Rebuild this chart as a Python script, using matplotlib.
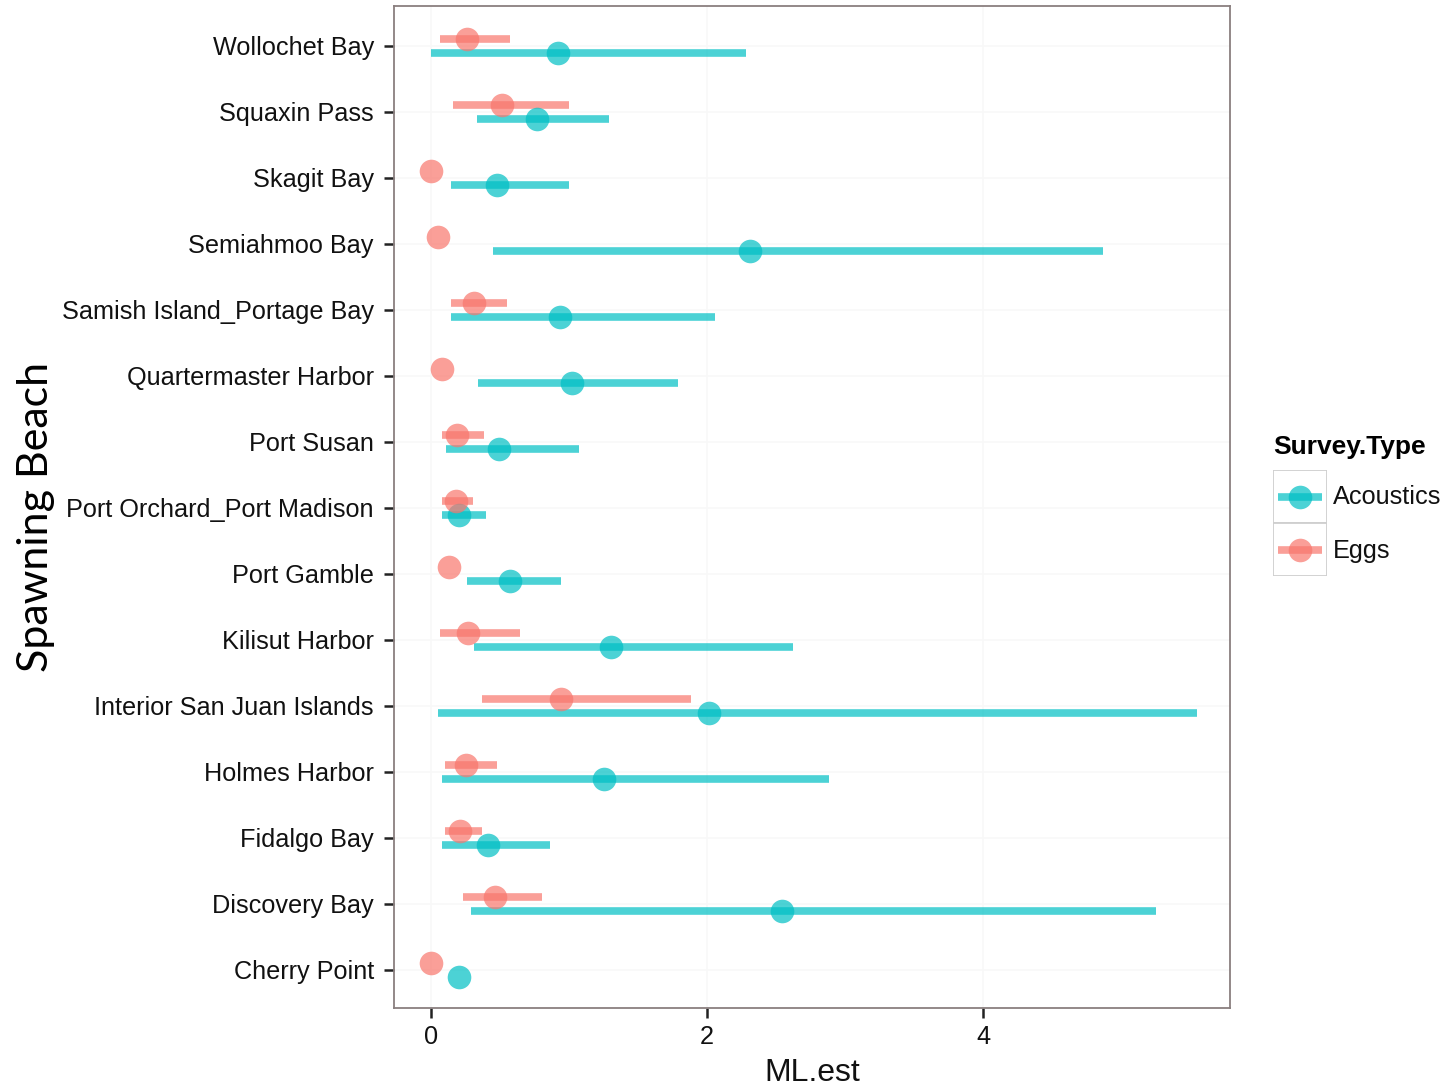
import matplotlib
matplotlib.use("Agg")
import matplotlib.pyplot as plt
from matplotlib.patches import Rectangle
import numpy as np

# ---- data (bottom-to-top order, as on the y axis) ----
beaches = ["Cherry Point", "Discovery Bay", "Fidalgo Bay", "Holmes Harbor",
           "Interior San Juan Islands", "Kilisut Harbor", "Port Gamble",
           "Port Orchard_Port Madison", "Port Susan", "Quartermaster Harbor",
           "Samish Island_Portage Bay", "Semiahmoo Bay", "Skagit Bay",
           "Squaxin Pass", "Wollochet Bay"]

acoustics_est = [0.20, 2.54, 0.41, 1.25, 2.01, 1.30, 0.57, 0.20, 0.49, 1.02, 0.93, 2.31, 0.48, 0.77, 0.92]
acoustics_lo  = [0.20, 0.29, 0.08, 0.08, 0.05, 0.31, 0.26, 0.08, 0.11, 0.34, 0.145, 0.45, 0.145, 0.33, 0.00]
acoustics_hi  = [0.20, 5.25, 0.86, 2.88, 5.55, 2.62, 0.94, 0.40, 1.07, 1.79, 2.06, 4.87, 1.00, 1.29, 2.28]

eggs_est = [0.00, 0.46, 0.21, 0.25, 0.94, 0.27, 0.13, 0.18, 0.19, 0.08, 0.31, 0.05, 0.00, 0.51, 0.26]
eggs_lo  = [0.00, 0.23, 0.10, 0.10, 0.37, 0.065, 0.13, 0.08, 0.08, 0.08, 0.145, 0.05, 0.00, 0.16, 0.065]
eggs_hi  = [0.00, 0.80, 0.37, 0.48, 1.88, 0.64, 0.13, 0.30, 0.38, 0.08, 0.55, 0.05, 0.00, 1.00, 0.57]

x_ticks = [0, 2, 4]
series = ["Acoustics", "Eggs"]
colors = {"Acoustics": "#00BFC4", "Eggs": "#F8766D"}

W, H = 1451, 1087
fig = plt.figure(figsize=(W / 100, H / 100), dpi=100)
fig.patch.set_facecolor("white")

def fx(px):
    return px / W

def fy(py):
    return 1 - py / H

ax = fig.add_axes([fx(394), fy(1008), fx(1230) - fx(394), fy(6) - fy(1008)])

pos = np.arange(1, len(beaches) + 1)
dodge = 0.105
alpha = 0.7
lw = 5.5
ms = 17
fs = 18.2

for name, est, lo, hi, off in [("Acoustics", acoustics_est, acoustics_lo, acoustics_hi, -dodge),
                               ("Eggs", eggs_est, eggs_lo, eggs_hi, dodge)]:
    y = pos + off
    ax.hlines(y, lo, hi, color=colors[name], lw=lw, alpha=alpha, zorder=3)
    ax.plot(est, y, "o", color=colors[name], ms=ms, alpha=alpha, mec="none", zorder=4)

ax.set_xlim(-0.27, 5.79)
ax.set_ylim(0.42, 15.6)
ax.set_yticks(pos)
ax.set_yticklabels(beaches, fontsize=fs, family="Liberation Sans", color="#111111")
ax.set_xticks(x_ticks)
ax.set_xticklabels([str(t) for t in x_ticks], fontsize=fs, family="Liberation Sans", color="#111111")
ax.tick_params(axis="y", length=7.5, width=1.8, color="#222222", pad=7)
ax.tick_params(axis="x", length=7.5, width=1.8, color="#222222", pad=5)

ax.grid(True, color="#f8f8f8", lw=1.2, zorder=0)
ax.set_axisbelow(True)
for s in ax.spines.values():
    s.set_color("#8a7f7f")
    s.set_linewidth(1.3)

ax.set_xlabel("ML.est", fontsize=23, family="Liberation Sans", labelpad=6, color="#111111")
fig.text(fx(36), fy(517), "Spawning Beach", rotation=90, fontsize=31, family="Lato",
         ha="center", va="center", color="black", zorder=10,
         bbox=dict(facecolor="white", edgecolor="none", pad=8))

# ---- legend ----
fig.text(fx(1273), fy(447), "Survey.Type", fontsize=19, fontweight="bold",
         family="Liberation Sans", ha="left", va="center")
lax = fig.add_axes([fx(1273), fy(576), fx(1327) - fx(1273), fy(470) - fy(576)])
lax.set_xlim(0, 1)
lax.set_ylim(0, 2)
lax.axis("off")
for i, name in enumerate(series):
    yc = 1.5 - i
    lax.add_patch(Rectangle((0, yc - 0.5), 1, 1, facecolor="white", edgecolor="#cfcfcf", lw=1.3))
    lax.plot([0.1, 0.9], [yc, yc], color=colors[name], lw=lw, alpha=alpha, solid_capstyle="butt")
    lax.plot([0.5], [yc], "o", color=colors[name], ms=ms, alpha=alpha, mec="none")
    fig.text(fx(1333), fy(497 + 54 * i), name, fontsize=fs, family="Liberation Sans",
             ha="left", va="center", color="#111111")

fig.savefig("out.png", dpi=100)
